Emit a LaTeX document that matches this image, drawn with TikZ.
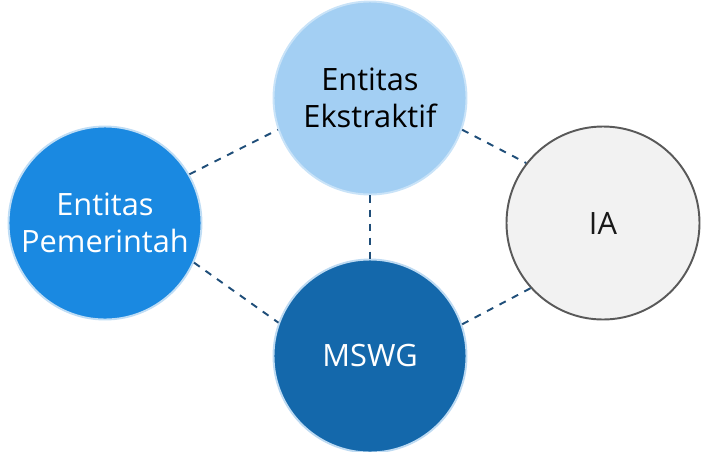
\documentclass[tikz,border=0pt]{standalone}
\usepackage{fontspec}
\setmainfont{Open Sans}
\usepackage{tikz}
\definecolor{extfill}{HTML}{A3CFF3}
\definecolor{extline}{HTML}{C9E3F8}
\definecolor{pemfill}{HTML}{1A89E1}
\definecolor{pemline}{HTML}{BFDDF5}
\definecolor{mswgfill}{HTML}{1468AB}
\definecolor{mswgline}{HTML}{BDDAF2}
\definecolor{iafill}{HTML}{F2F2F2}
\definecolor{ialine}{HTML}{595959}
\definecolor{linkblue}{HTML}{1F4E79}

\begin{document}
\begin{tikzpicture}[
    party/.style={circle, minimum size=3.86cm, inner sep=0pt, line width=1.1pt,
                  align=center, font=\fontsize{17.5}{21}\selectfont},
    link/.style={linkblue, line width=1.1pt, dash pattern=on 4pt off 4pt}]
        \useasboundingbox (0,0) rectangle (14.08,9.02);
        % lingkaran
        \node[party, fill=extfill, draw=extline, text=black] (ext) at (7.4,7.06) {Entitas\\Ekstraktif};
        \node[party, fill=pemfill, draw=pemline, text=white] (pem) at (2.1,4.56) {Entitas\\Pemerintah};
        \node[party, fill=iafill, draw=ialine, text=black!90] (ia) at (12.06,4.56) {IA};
        \node[party, fill=mswgfill, draw=mswgline, text=white] (mswg) at (7.4,1.9) {MSWG};
        % garis putus-putus
        \draw[link] (pem.30) -- (ext.199);
        \draw[link] (pem.336) -- (mswg.160);
        \draw[link] (ext.341) -- (ia.142);
        \draw[link] (mswg.19) -- (ia.222);
        \draw[link] (ext.south) -- (mswg.north);
    \end{tikzpicture}
\end{document}
